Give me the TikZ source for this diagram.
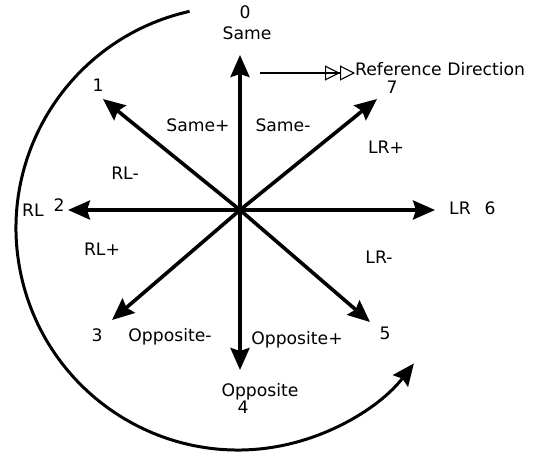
\documentclass[tikz,border=0pt]{standalone}
\usepackage{fontspec}
\setmainfont{DejaVu Sans}
\usetikzlibrary{arrows.meta}
\tikzset{
  dirarrow/.style={line width=3.6pt,-{Stealth[length=22pt,width=19pt,inset=3pt]}},
  lbl/.style={font=\fontsize{17.2}{19}\selectfont,inner sep=0pt}
}
\begin{document}
\begin{tikzpicture}[x=1pt,y=1pt]
\useasboundingbox (-240,-248) rectangle (297,210);
% centre and arrow ends
\coordinate (o) at (0,0);
\coordinate (d0) at (0,155);
\coordinate (d1) at (-137,111);
\coordinate (d2) at (-172,0);
\coordinate (d3) at (-128,-110);
\coordinate (d4) at (0,-160);
\coordinate (d5) at (130,-112);
\coordinate (d6) at (195,0);
\coordinate (d7) at (137,111);
\draw[dirarrow] (o) -- (d0);
\draw[dirarrow] (o) -- (d1);
\draw[dirarrow] (o) -- (d2);
\draw[dirarrow] (o) -- (d3);
\draw[dirarrow] (o) -- (d4);
\draw[dirarrow] (o) -- (d5);
\draw[dirarrow] (o) -- (d6);
\draw[dirarrow] (o) -- (d7);
% numbers and names
\node[lbl] (n0) at (5,198) {0};
\node[lbl] (same) at (7,177) {Same};
\node[lbl] (n1) at (-142,125) {1};
\node[lbl] (n2) at (-181,5) {2};
\node[lbl] (rl) at (-207,0) {RL};
\node[lbl] (n3) at (-143,-125) {3};
\node[lbl] (opp) at (20,-182) {Opposite};
\node[lbl] (n4) at (3,-197) {4};
\node[lbl] (n5) at (145,-123) {5};
\node[lbl] (lr) at (220,2) {LR};
\node[lbl] (n6) at (250,2) {6};
\node[lbl] (n7) at (152,123) {7};
\node[lbl] (samep) at (-42,85) {Same+};
\node[lbl] (samem) at (43,85) {Same-};
\node[lbl] (lrp) at (146,63) {LR+};
\node[lbl] (rlm) at (-115,37) {RL-};
\node[lbl] (rlp) at (-138,-39) {RL+};
\node[lbl] (lrm) at (139,-47) {LR-};
\node[lbl] (oppm) at (-70,-127) {Opposite-};
\node[lbl] (oppp) at (57,-130) {Opposite+};
% reference direction
\node[lbl,anchor=west] (refdir) at (115,141) {Reference Direction};
\coordinate (refs) at (20,137);
\draw[line width=1.1pt,-{Triangle[open,length=15pt,width=15pt] Triangle[open,length=15pt,width=15pt]}] (refs) -- (refs -| refdir.west);
% turning arc
\coordinate (c) at (-2,-18);
\draw[line width=3pt,-{Stealth[length=22pt,width=19pt,inset=3pt]}] (c) ++(102.6:222) arc[start angle=102.6,end angle=322.4,radius=222];
\end{tikzpicture}
\end{document}
